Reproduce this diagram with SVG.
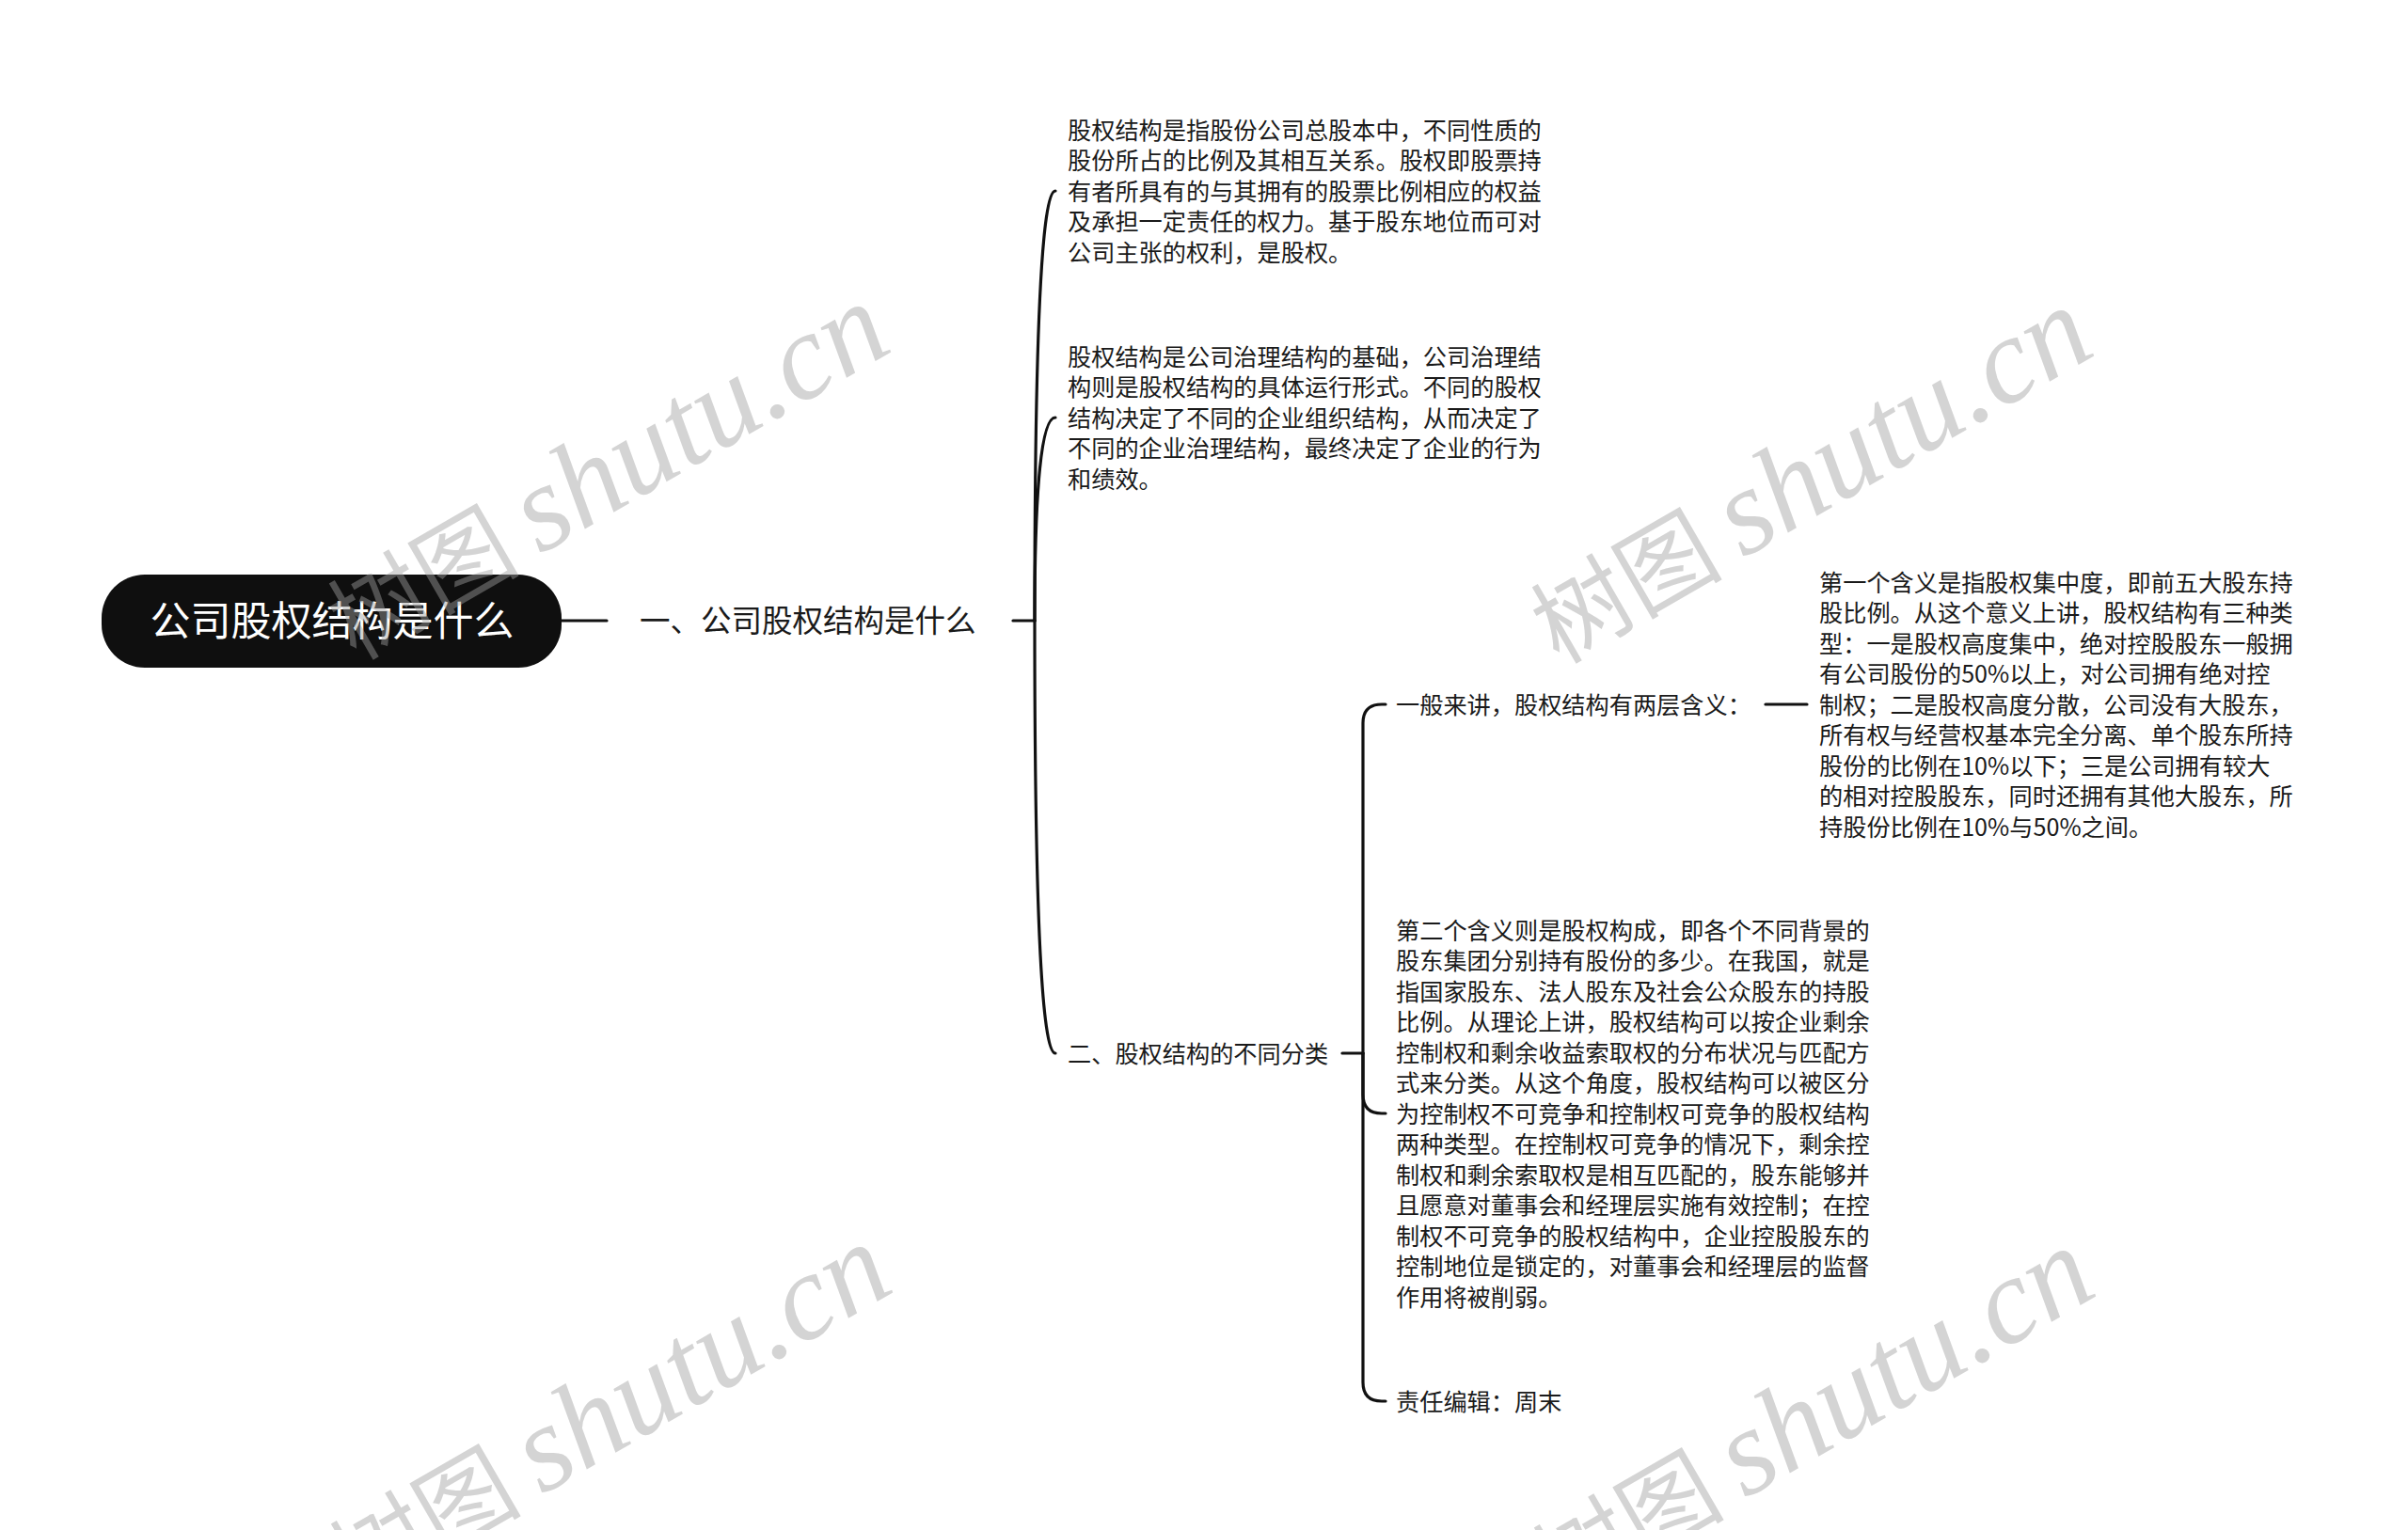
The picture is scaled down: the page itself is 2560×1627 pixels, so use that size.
<svg xmlns="http://www.w3.org/2000/svg" width="2560" height="1627" viewBox="0 0 2560 1627">
<style>
.t{font-family:"Noto Sans CJK SC","Noto Sans",sans-serif;fill:#1a1a1a}
.s{font-size:25.2px}
.l1{font-size:32.5px}
.root{font-family:"Noto Sans CJK SC","Noto Sans",sans-serif;font-size:43px;fill:#ffffff}
.c{fill:none;stroke:#111111;stroke-width:3.2;stroke-linecap:round}
.wm{fill:#a0a0a0;fill-opacity:0.45}
.wmL{font-family:"Liberation Serif",serif;font-style:italic;font-size:130px}
.wmC{font-family:"Noto Sans CJK SC",sans-serif;font-size:102px}
</style>
<rect x="0" y="0" width="2560" height="1627" fill="#ffffff"/>
<g id="connectors">
<path class="c" d="M597 660 L645 660"/>
<path class="c" d="M1077 660 L1100 660"/>
<path class="c" d="M1100 660 Q1100 203 1122 203"/>
<path class="c" d="M1100 660 Q1100 444 1122 444"/>
<path class="c" d="M1100 660 Q1100 1120 1122 1120"/>
<path class="c" d="M1427 1120 L1449 1120"/>
<path class="c" d="M1449 1120 L1449 769 Q1449 749 1469 749 L1473 749"/>
<path class="c" d="M1449 1120 L1449 1164 Q1449 1184 1469 1184 L1473 1184"/>
<path class="c" d="M1449 1120 L1449 1470 Q1449 1490 1469 1490 L1473 1490"/>
<path class="c" d="M1877 749 L1921 749"/>
</g>
<g id="root">
<rect x="108" y="611" width="489" height="99" rx="46" ry="46" fill="#0f0f0f"/>
<text class="root" x="353" y="676" text-anchor="middle">公司股权结构是什么</text>
</g>
<g id="n1">
<text class="t l1" x="680" y="672">一、公司股权结构是什么</text>
</g>
<g id="n1a">
<text class="t s" x="1135" y="147.5">股权结构是指股份公司总股本中，不同性质的</text>
<text class="t s" x="1135" y="180">股份所占的比例及其相互关系。股权即股票持</text>
<text class="t s" x="1135" y="212.5">有者所具有的与其拥有的股票比例相应的权益</text>
<text class="t s" x="1135" y="245">及承担一定责任的权力。基于股东地位而可对</text>
<text class="t s" x="1135" y="277.5">公司主张的权利，是股权。</text>
</g>
<g id="n1b">
<text class="t s" x="1135" y="388.5">股权结构是公司治理结构的基础，公司治理结</text>
<text class="t s" x="1135" y="421">构则是股权结构的具体运行形式。不同的股权</text>
<text class="t s" x="1135" y="453.5">结构决定了不同的企业组织结构，从而决定了</text>
<text class="t s" x="1135" y="486">不同的企业治理结构，最终决定了企业的行为</text>
<text class="t s" x="1135" y="518.5">和绩效。</text>
</g>
<g id="n2">
<text class="t s" x="1135" y="1129.5">二、股权结构的不同分类</text>
</g>
<g id="n2a">
<text class="t s" x="1484" y="758.5">一般来讲，股权结构有两层含义：</text>
</g>
<g id="n2a1">
<text class="t s" x="1934" y="628.5">第一个含义是指股权集中度，即前五大股东持</text>
<text class="t s" x="1934" y="661">股比例。从这个意义上讲，股权结构有三种类</text>
<text class="t s" x="1934" y="693.5">型：一是股权高度集中，绝对控股股东一般拥</text>
<text class="t s" x="1934" y="726">有公司股份的50%以上，对公司拥有绝对控</text>
<text class="t s" x="1934" y="758.5">制权；二是股权高度分散，公司没有大股东，</text>
<text class="t s" x="1934" y="791">所有权与经营权基本完全分离、单个股东所持</text>
<text class="t s" x="1934" y="823.5">股份的比例在10%以下；三是公司拥有较大</text>
<text class="t s" x="1934" y="856">的相对控股股东，同时还拥有其他大股东，所</text>
<text class="t s" x="1934" y="888.5">持股份比例在10%与50%之间。</text>
</g>
<g id="n2b">
<text class="t s" x="1484" y="998.5">第二个含义则是股权构成，即各个不同背景的</text>
<text class="t s" x="1484" y="1031">股东集团分别持有股份的多少。在我国，就是</text>
<text class="t s" x="1484" y="1063.5">指国家股东、法人股东及社会公众股东的持股</text>
<text class="t s" x="1484" y="1096">比例。从理论上讲，股权结构可以按企业剩余</text>
<text class="t s" x="1484" y="1128.5">控制权和剩余收益索取权的分布状况与匹配方</text>
<text class="t s" x="1484" y="1161">式来分类。从这个角度，股权结构可以被区分</text>
<text class="t s" x="1484" y="1193.5">为控制权不可竞争和控制权可竞争的股权结构</text>
<text class="t s" x="1484" y="1226">两种类型。在控制权可竞争的情况下，剩余控</text>
<text class="t s" x="1484" y="1258.5">制权和剩余索取权是相互匹配的，股东能够并</text>
<text class="t s" x="1484" y="1291">且愿意对董事会和经理层实施有效控制；在控</text>
<text class="t s" x="1484" y="1323.5">制权不可竞争的股权结构中，企业控股股东的</text>
<text class="t s" x="1484" y="1356">控制地位是锁定的，对董事会和经理层的监督</text>
<text class="t s" x="1484" y="1388.5">作用将被削弱。</text>
</g>
<g id="n2c">
<text class="t s" x="1484" y="1499.5">责任编辑：周末</text>
</g>
<g id="watermarks" class="wm">
<g transform="translate(574 590) rotate(-30)">
<text class="wmC" x="-22" y="0" text-anchor="end">树图</text>
<text class="wmL" x="0" y="0">shutu.cn</text>
</g>
<g transform="translate(1853 594) rotate(-30)">
<text class="wmC" x="-22" y="0" text-anchor="end">树图</text>
<text class="wmL" x="0" y="0">shutu.cn</text>
</g>
<g transform="translate(576 1590) rotate(-30)">
<text class="wmC" x="-22" y="0" text-anchor="end">树图</text>
<text class="wmL" x="0" y="0">shutu.cn</text>
</g>
<g transform="translate(1855 1594) rotate(-30)">
<text class="wmC" x="-22" y="0" text-anchor="end">树图</text>
<text class="wmL" x="0" y="0">shutu.cn</text>
</g>
</g>
</svg>
